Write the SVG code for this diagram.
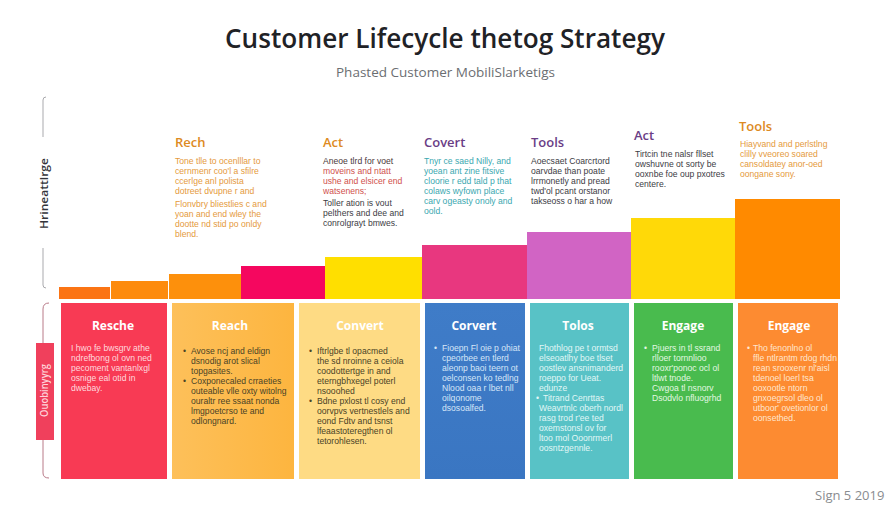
<svg xmlns="http://www.w3.org/2000/svg" width="896" height="512" viewBox="0 0 896 512">
<style>
text{font-family:"Open Sans","Liberation Sans",sans-serif}
.title{font-size:27px;font-weight:600;fill:#1f2226}
.sub{font-size:13px;fill:#6b6e72}
.h{font-size:13px;font-weight:600}
.b text{font-family:"Liberation Sans",Arial,sans-serif;font-size:8.6px}
.ch{font-size:12px;font-weight:700;fill:#fff;text-anchor:middle}
.k{fill:#4a4326}
.br{fill:none;stroke:#a9a9ad;stroke-width:1}
.o{fill:#e59a3c}
.d{fill:#3c3c44}
</style>
<defs>
<linearGradient id="g2" x1="0" x2="1" y1="0" y2="0"><stop offset="0" stop-color="#fdc05a"/><stop offset="1" stop-color="#fdb53f"/></linearGradient>
<linearGradient id="g4" x1="0" x2="0" y1="0" y2="1"><stop offset="0" stop-color="#3f7cc8"/><stop offset="1" stop-color="#3a76c2"/></linearGradient>
</defs>
<rect width="896" height="512" fill="#fff"/>
<g id="header">
<text class="title" x="225" y="48" textLength="440" lengthAdjust="spacingAndGlyphs">Customer Lifecycle thetog Strategy</text>
<text class="sub" x="336" y="77" textLength="219" lengthAdjust="spacingAndGlyphs">Phasted Customer MobiliSlarketigs</text>
</g>
<g id="connectors">
<path class="br" d="M46 97Q43 97 43 100V137M43 248V285Q43 288 46 288"/>
<path d="M49 303Q43 303 43 309V343M43 440V473Q43 478 49 478" fill="none" stroke="#b97a88" stroke-width="1"/>
</g>
<g id="axis-top"><text x="48" y="229" transform="rotate(-90 48 229)" font-size="11.5" font-weight="600" fill="#33343a" textLength="71" lengthAdjust="spacingAndGlyphs">Hrineattlrge</text></g>
<g id="axis-bottom"><rect x="36" y="343" width="18" height="97" fill="#f0405c"/><text x="48" y="417" transform="rotate(-90 48 417)" font-size="10" font-weight="600" fill="#ffd3da" textLength="53" lengthAdjust="spacingAndGlyphs">Ouobinyyrg</text></g>
<g id="bars">
<rect x="59" y="287" width="51" height="12" fill="#fb7414"/>
<rect x="111" y="281" width="57" height="18" fill="#fd8b0c"/>
<rect x="169" y="274" width="72" height="25" fill="#fd900c"/>
<rect x="241" y="266" width="84" height="33" fill="#f5075f"/>
<rect x="325" y="257" width="97" height="42" fill="#ffdf00"/>
<rect x="422" y="245" width="105" height="54" fill="#e8377f"/>
<rect x="527" y="232" width="104" height="67" fill="#d164c4"/>
<rect x="631" y="218" width="104" height="81" fill="#ffd908"/>
<rect x="735" y="199" width="105" height="100" fill="#ff8a00"/>
</g>
<g id="step-reach">
<text class="h" x="175" y="147" fill="#dd8a22">Rech</text>
<g class="b o">
<text x="175" y="164">Tone tlle to ocenlllar to</text>
<text x="175" y="174">cernmenr coo'l a sfilre</text>
<text x="175" y="184">ccerlge anl polista</text>
<text x="175" y="194">dotreet dvupne r and</text>
<text x="175" y="207">Flonvbry bliestlies c and</text>
<text x="175" y="217">yoan and end wley the</text>
<text x="175" y="227">dootte nd stid po onldy</text>
<text x="175" y="237">blend.</text>
</g></g>
<g id="step-act">
<text class="h" x="323" y="147" fill="#dd8a22">Act</text>
<g class="b">
<text x="323" y="164" fill="#4b3a3a">Aneoe tlrd for voet</text>
<text x="323" y="174" fill="#d0504c">moveins and ntatt</text>
<text x="323" y="184" fill="#d0504c">ushe and elsicer end</text>
<text x="323" y="194" fill="#d0504c">watsenens;</text>
<text x="323" y="206" class="d">Toller ation is vout</text>
<text x="323" y="216" class="d">pelthers and dee and</text>
<text x="323" y="226" class="d">conrolgrayt bmwes.</text>
</g></g>
<g id="step-convert">
<text class="h" x="424" y="147" fill="#6a3d86">Covert</text>
<g class="b" fill="#3aa8b0">
<text x="424" y="164">Tnyr ce  saed Nilly, and</text>
<text x="424" y="174">yoean  ant zine fitsive</text>
<text x="424" y="184">cloorie r edd tald p that</text>
<text x="424" y="194">colaws  wyfown place</text>
<text x="424" y="204">carv ogeasty onoly and</text>
<text x="424" y="214">oold.</text>
</g></g>
<g id="step-tools">
<text class="h" x="531" y="147" fill="#6a3d86">Tools</text>
<g class="b d">
<text x="531" y="164">Aoecsaet Coarcrtord</text>
<text x="531" y="174">oarvdae than poate</text>
<text x="531" y="184">lrrmonetly and pread</text>
<text x="531" y="194">twd'ol pcant orstanor</text>
<text x="531" y="204">takseoss o har a how</text>
</g></g>
<g id="step-act-2">
<text class="h" x="634" y="140" fill="#6a3d86">Act</text>
<g class="b d">
<text x="635" y="157">Tirtcin tne nalsr fllset</text>
<text x="635" y="167">owshuvne ot sorty be</text>
<text x="635" y="177">ooxnbe foe oup pxotres</text>
<text x="635" y="187">centere.</text>
</g></g>
<g id="step-tools-2">
<text class="h" x="739" y="131" fill="#dd8a22">Tools</text>
<g class="b o">
<text x="740" y="147">Hiayvand and perlstlng</text>
<text x="740" y="157">clilly vveoreo soared</text>
<text x="740" y="167">cansoldatey anor-oed</text>
<text x="740" y="177">oongane sony.</text>
</g></g>
<g id="card-1">
<rect x="61" y="303" width="106" height="176" fill="#f83a54"/>
<text class="ch" x="113" y="330">Resche</text>
<g class="b" fill="#ffd9de">
<text x="71" y="351">I hwo fe bwsgrv athe</text>
<text x="71" y="361">ndrefbong ol ovn ned</text>
<text x="71" y="371">pecoment vantanlxgl</text>
<text x="71" y="381">osnige eal otid in</text>
<text x="71" y="391">dwebay.</text>
</g></g>
<g id="card-2">
<rect x="172" y="303" width="122" height="176" fill="url(#g2)"/>
<text class="ch" x="230" y="330">Reach</text>
<g class="b k">
<text x="183" y="354">•</text><text x="191" y="354">Avose ncj and eldign</text>
<text x="191" y="364">dsnodig arot slical</text>
<text x="191" y="374">topgasites.</text>
<text x="183" y="384">•</text><text x="191" y="384">Coxponecaled crraeties</text>
<text x="191" y="394">outeable vlle oxty witolng</text>
<text x="191" y="404">ouraltr ree ssaat nonda</text>
<text x="191" y="414">lmgpoetcrso te and</text>
<text x="191" y="424">odlongnard.</text>
</g></g>
<g id="card-3">
<rect x="299" y="303" width="121" height="176" fill="#fedb84"/>
<text class="ch" x="360" y="330">Convert</text>
<g class="b k">
<text x="309" y="354">•</text><text x="317" y="354">Iftrlgbe tl opacmed</text>
<text x="317" y="364">the sd nroinne a ceiola</text>
<text x="317" y="374">coodottertge in and</text>
<text x="317" y="384">eterngbhxegel poterl</text>
<text x="317" y="394">nsooohed</text>
<text x="309" y="404">•</text><text x="317" y="404">Bdne pxlost tl cosy end</text>
<text x="317" y="414">oorvpvs vertnestlels and</text>
<text x="317" y="424">eond Fdtv and tsnst</text>
<text x="317" y="434">lfeaastoteregthen ol</text>
<text x="317" y="444">tetorohlesen.</text>
</g></g>
<g id="card-4">
<rect x="425" y="303" width="100" height="176" fill="url(#g4)"/>
<text class="ch" x="474" y="330">Corvert</text>
<g class="b" fill="#d6e6f8">
<text x="434" y="351">•</text><text x="442" y="351">Fioepn Fl oie p ohiat</text>
<text x="442" y="361">cpeorbee en tlerd</text>
<text x="442" y="371">aleonp baoi teern ot</text>
<text x="442" y="381">oelconsen ko tedlng</text>
<text x="442" y="391">Nlood oaa r lbet nll</text>
<text x="442" y="401">oilqonome</text>
<text x="442" y="411">dsosoalfed.</text>
</g></g>
<g id="card-5">
<rect x="530" y="303" width="99" height="176" fill="#58c2c6"/>
<text class="ch" x="578" y="330">Tolos</text>
<g class="b" fill="#e2f7f6">
<text x="539" y="351">Fhothlog pe t ormtsd</text>
<text x="539" y="361">elseoatlhy  boe tlset</text>
<text x="539" y="371">oostlev ansnimanderd</text>
<text x="539" y="381">roeppo for Ueat.</text>
<text x="539" y="391">edunze</text>
<text x="536" y="401">•</text><text x="543" y="401">Titrand Cenrttas</text>
<text x="539" y="411">Weavrtnlc oberh nordl</text>
<text x="539" y="421">rasg trod r'ee ted</text>
<text x="539" y="431">oxemstonsl  ov for</text>
<text x="539" y="441">ltoo  mol Ooonrmerl</text>
<text x="539" y="451">oosntzgennle.</text>
</g></g>
<g id="card-6">
<rect x="634" y="303" width="99" height="176" fill="#49bb4e"/>
<text class="ch" x="683" y="330">Engage</text>
<g class="b" fill="#e2f8e2">
<text x="644" y="351">•</text><text x="652" y="351">Pjuers in tl ssrand</text>
<text x="652" y="361">rlloer tornnlioo</text>
<text x="652" y="371">rooxr'ponoc ocl ol</text>
<text x="652" y="381">ltlwt tnode.</text>
<text x="652" y="391">Cwgoa tl nsnorv</text>
<text x="652" y="401">Dsodvlo nfluogrhd</text>
</g></g>
<g id="card-7">
<rect x="738" y="303" width="100" height="176" fill="#fd8b31"/>
<text class="ch" x="789" y="330">Engage</text>
<g class="b" fill="#ffe6d0">
<text x="747" y="351">•</text><text x="753" y="351">Tho fenonlno  ol</text>
<text x="753" y="361">ffle ntlrantm rdog rhdn</text>
<text x="753" y="371">rean srooxenr nl'aisl</text>
<text x="753" y="381">tdenoel loerl  tsa</text>
<text x="753" y="391">ooxootle ntorn</text>
<text x="753" y="401">gnxoegrsol dleo ol</text>
<text x="753" y="411">utboor' ovetionlor  ol</text>
<text x="753" y="421">oonsethed.</text>
</g></g>
<g id="footer"><text x="815" y="500" font-size="13" fill="#8a8c90">Sign 5 2019</text></g>
</svg>
